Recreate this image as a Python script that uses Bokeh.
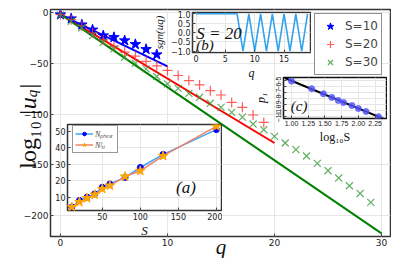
import numpy as np
from bokeh.plotting import figure
from bokeh.models import (Range1d, FixedTicker, CustomJSTickFormatter, Legend,
                          LegendItem, Label)
from bokeh.layouts import column
from bokeh.embed import file_html
from bokeh.resources import INLINE

# ---------------- data ----------------
q_s10 = list(range(10))
u_s10 = [-2, -6, -12, -17, -22.7, -24.4, -27.6, -31.3, -36.2, -41.4]
q_s20 = list(range(20))
u_s20 = [-2, -7, -13, -20, -27, -33, -39, -43, -48, -52.5, -57, -62, -67, -71.3,
         -77, -81.2, -88.5, -93.4, -100.9, -108.2]
q_s30 = list(range(30))
u_s30 = [-2.3, -8.6, -15, -22.7, -29.3, -35.8, -44, -50, -55.5, -63, -70.3, -74.7,
         -79.6, -83.5, -89.4, -93.4, -98.3, -103, -109.8, -115.4, -122, -128.5,
         -135, -141.3, -148.6, -155.8, -163, -170.6, -178.2, -187]
series_labels = ["S=10", "S=20", "S=30"]
fit_S = [10, 20, 30]
fit_p0 = [-2.0, -1.5, -1.5]

# inset (a)
S_vals = [10, 20, 30, 40, 50, 60, 80, 100, 130, 200]
N_phase = [4, 8, 10, 12, 16, 18, 22, 28, 36, 51]
N_fit = [4, 7, 9.4, 11.5, 15, 17, 22.5, 26, 35, 53]

# inset (c): slopes p1 vs log10 S
p1_vals = [-5.1, -6.35, -7.2, -7.8, -8.3, -8.65, -9.15, -9.65, -10.15, -11.0]

# inset (b): sign of u_q for S = 20
q_sgn = list(range(20))
sgn_vals = [1, 1, 1, 1, 1, 1, 1, 1, -1, 1, -1, 1, -1, 1, -1, 1, -1, 1, -1, 1]

SANS = "DejaVu Sans"
SERIF = "Liberation Serif"
BL, BR = 41, 1          # common left / right border of every figure in the column


def fmt(d):
    return CustomJSTickFormatter(code="""
        const s = Math.abs(tick).toFixed(%d);
        return (tick < -1e-9 ? "\u2212" : "") + s;""" % d)


def style(p, size="9px"):
    for ax in (p.xaxis[0], p.yaxis[0]):
        ax.axis_line_color = None
        ax.major_tick_in = 3
        ax.major_tick_out = 0
        ax.major_tick_line_color = "#444444"
        ax.minor_tick_line_color = None
        ax.major_label_text_font = SANS
        ax.major_label_text_font_size = size
        ax.major_label_text_color = "#222222"
        ax.major_label_standoff = 2
        ax.axis_label_text_font = SERIF
        ax.axis_label_text_font_style = "italic"
        ax.axis_label_text_color = "#111111"
    p.xgrid.grid_line_color = "#e6e6e6"
    p.ygrid.grid_line_color = "#e6e6e6"
    p.outline_line_color = "#333333"
    p.outline_line_width = 1.5


def inset(xr, yr, w, h, bt, bb, margin):
    f = figure(width=w, height=h, x_range=Range1d(*xr), y_range=Range1d(*yr),
               output_backend="svg", toolbar_location=None,
               min_border_left=BL, min_border_right=BR, min_border_top=bt,
               min_border_bottom=bb, margin=margin)
    f.border_fill_alpha = 0
    f.background_fill_color = "white"
    return f


# ---------------- main figure ----------------
p = figure(width=383, height=250, x_range=Range1d(-0.93, 30.84),
           y_range=Range1d(-220.6, 3.0), output_backend="svg", toolbar_location=None,
           min_border_left=BL, min_border_right=BR, min_border_top=1,
           min_border_bottom=22)
style(p)
p.xaxis.ticker = FixedTicker(ticks=[0, 10, 20, 30])
p.yaxis.ticker = FixedTicker(ticks=[0, -50, -100, -150, -200])
p.yaxis.formatter = fmt(0)
p.xaxis.formatter = fmt(0)

colors = ["#0000ff", "#ff0000", "#008000"]
mcolors = ["#0000ff", "#ff3333", "#3a9a3a"]
markers = ["star", "cross", "x"]
qs = [q_s10, q_s20, q_s30]
us = [u_s10, u_s20, u_s30]
fit_p1 = p1_vals[:3]

items = []
for i in range(3):
    qq = np.array([0, fit_S[i]], dtype=float)
    p.line(qq, fit_p0[i] + fit_p1[i] * qq, line_color=colors[i], line_width=2)
for i in range(3):
    if markers[i] == "star":
        r = p.scatter(qs[i], us[i], marker="star", size=11, fill_color=mcolors[i],
                      line_color=mcolors[i])
    else:
        r = p.scatter(qs[i], us[i], marker=markers[i], size=10, line_color=mcolors[i],
                      line_alpha=0.8, line_width=1.2)
    items.append(LegendItem(label=series_labels[i], renderers=[r]))

leg = Legend(items=items, location=(264, 161), label_text_font=SANS,
             label_text_font_size="12px", glyph_width=24, glyph_height=18,
             spacing=0, padding=3, margin=0, label_standoff=3,
             border_line_color="#222222", border_line_width=1,
             background_fill_color="white", label_height=12)
p.add_layout(leg, "center")

# ---------------- inset (b) ----------------
pb = inset((-0.6, 19.5), (-1.07, 1.07), 161, 72, 2, 24, (-248, 0, 0, 142))
style(pb, "8px")
pb.xaxis.ticker = FixedTicker(ticks=[0, 5, 10, 15])
pb.yaxis.ticker = FixedTicker(ticks=[-1, -0.5, 0, 0.5, 1])
pb.xaxis.formatter = fmt(0)
pb.yaxis.formatter = fmt(1)
pb.xaxis.axis_label = "q"
pb.yaxis.axis_label = "sgn(uq)"
pb.xaxis.axis_label_text_font_size = "12px"
pb.yaxis.axis_label_text_font_size = "11px"
pb.xaxis.axis_label_standoff = 1
pb.yaxis.axis_label_standoff = 3
pb.line(q_sgn, sgn_vals, line_color="#33a3ee", line_width=1.6)
pb.add_layout(Label(x=0.05, y=-0.05, text="S = 20", text_font=SERIF,
                    text_font_size="17px", text_font_style="italic",
                    text_align="left", text_baseline="middle", text_color="#111111"))
pb.add_layout(Label(x=0.05, y=-0.66, text="(b)", text_font=SERIF,
                    text_font_size="15px", text_font_style="italic",
                    text_align="left", text_baseline="middle", text_color="#111111"))

# ---------------- inset (c) ----------------
pc = inset((0.88, 2.42), (-11.3, -4.5), 146, 72, 3, 26, (-8, 0, 0, 233))
style(pc, "7px")
pc.xaxis.ticker = FixedTicker(ticks=[1.0, 1.25, 1.5, 1.75, 2.0, 2.25])
pc.yaxis.ticker = FixedTicker(ticks=[-5, -6, -7, -8, -9, -10, -11])
pc.xaxis.formatter = fmt(2)
pc.yaxis.formatter = fmt(0)
for ax in (pc.xaxis[0], pc.yaxis[0]):
    ax.major_label_text_font = "Liberation Sans"
pc.yaxis.major_label_orientation = "parallel"
pc.xaxis.axis_label = "log\u2081\u2080S"
pc.yaxis.axis_label = "p\u2081"
pc.xaxis.axis_label_text_font_style = "normal"
pc.xaxis.axis_label_text_font_size = "12px"
pc.yaxis.axis_label_text_font_size = "12px"
pc.xaxis.axis_label_standoff = 1
pc.yaxis.axis_label_standoff = 6
pc.outline_line_color = "#111111"
logS = np.log10(S_vals)
coef = np.polyfit(logS, p1_vals, 1)
lx = np.array([logS.min() - 0.1, logS.max() + 0.07])
pc.line(lx, np.polyval(coef, lx), line_color="black", line_width=2)
pc.scatter(logS, p1_vals, size=6, fill_color="#5555ff", line_color="#5555ff",
           fill_alpha=0.8, line_alpha=0.8)
pc.add_layout(Label(x=0.99, y=-9.3, text="(c)", text_font=SERIF,
                    text_font_size="15px", text_font_style="italic",
                    text_align="left", text_baseline="middle", text_color="#111111"))

# ---------------- inset (a) ----------------
pa = inset((4.3, 206.7), (1.9, 54.1), 197, 119, 3, 26, (-25, 0, 0, 17))
style(pa, "8px")
pa.xaxis.ticker = FixedTicker(ticks=[50, 100, 150, 200])
pa.yaxis.ticker = FixedTicker(ticks=[10, 20, 30, 40, 50])
pa.xaxis.formatter = fmt(0)
pa.yaxis.formatter = fmt(0)
pa.xaxis.axis_label = "S"
pa.xaxis.axis_label_text_font_size = "13px"
pa.xaxis.axis_label_standoff = 0
l1 = pa.line(S_vals, N_phase, line_color="#3fa7f5", line_width=1.5)
m1 = pa.scatter(S_vals, N_phase, size=6, fill_color="#0000ff", line_color="#0000ff")
l2 = pa.line(S_vals, N_fit, line_color="#f0826a", line_width=1.5)
m2 = pa.scatter(S_vals, N_fit, marker="star", size=10, fill_color="#ffa500",
                line_color="#ffa500")
lega = Legend(items=[LegendItem(label="N\u209a\u2095\u2090\u209b\u2091", renderers=[l1, m1]),
                     LegendItem(label="N\u1da0\u1d62\u209c", renderers=[l2, m2])],
              orientation="vertical",
              location=(5, 57), label_text_font=SERIF, label_text_font_style="italic",
              label_text_font_size="8px", glyph_width=18, glyph_height=9,
              spacing=0, padding=2, margin=0, label_standoff=2, label_height=9,
              border_line_color="#333333", background_fill_color="white")
pa.add_layout(lega, "center")
pa.add_layout(Label(x=160, y=15.8, text="(a)", text_font=SERIF,
                    text_font_size="17px", text_font_style="italic",
                    text_align="center", text_baseline="middle", text_color="#111111"))

# ------- overlay for the main axis titles; its frame spans page px 8..349 x 8..264 -------
ov = figure(width=383, height=256, x_range=Range1d(8, 349),
            y_range=Range1d(264, 8), output_backend="svg", toolbar_location=None,
            min_border_left=BL, min_border_right=BR, min_border_top=0,
            min_border_bottom=0, x_axis_location=None, y_axis_location=None,
            margin=(-232, 0, 0, -BL))
ov.grid.visible = False
ov.outline_line_color = None
ov.background_fill_alpha = 0
ov.border_fill_alpha = 0
ang = np.pi / 2
for txt, px, py, fs, st in [
        ("log\u2081\u2080", 27, 172, "24px", "normal"),
        ("|u", 27, 118, "24px", "italic"),
        ("q", 31, 99, "15px", "italic"),
        ("|", 27, 90, "24px", "normal")]:
    ov.add_layout(Label(x=px, y=py, text=txt, angle=ang,
                        text_font=SERIF, text_font_size=fs, text_font_style=st,
                        text_align="left", text_baseline="alphabetic",
                        text_color="#111111"))
ov.add_layout(Label(x=220, y=252, text="q", text_font=SERIF,
                    text_font_size="21px", text_font_style="italic",
                    text_align="center", text_baseline="alphabetic",
                    text_color="#111111"))

layout = column(p, pb, pc, pa, ov, spacing=0, width=383, height=250, margin=(8, 0, 0, 8))
open("out.html", "w", encoding="utf-8").write(file_html(layout, INLINE))
